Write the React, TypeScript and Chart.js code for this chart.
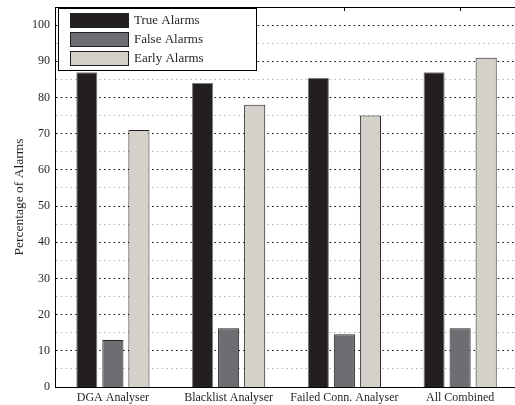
import React, { useEffect, useRef } from "react";
import { Chart, registerables } from "chart.js";

Chart.register(...registerables);

const categories = ["DGA Analyser", "Blacklist Analyser", "Failed Conn. Analyser", "All Combined"];
const seriesNames = ["True Alarms", "False Alarms", "Early Alarms"];
const trueAlarms = [87, 84, 85.4, 87];
const falseAlarms = [13, 16.2, 14.6, 16.2];
const earlyAlarms = [71, 78, 75, 91];
const yTickLabels = [0, 10, 20, 30, 40, 50, 60, 70, 80, 90, 100];

const fills = ["#231f20", "#6d6e71", "#d4d0ca"];
const borders = ["#7a7a7a", "#231f20", "#231f20"];
const SERIF = "'Liberation Serif', 'DejaVu Serif', serif";

const framePlugin = {
  id: "frame",
  afterDatasetsDraw(chart: any) {
    const { ctx, chartArea } = chart;
    const xs = chart.scales.x;
    ctx.save();
    ctx.strokeStyle = "#000";
    ctx.lineWidth = 1;
    ctx.beginPath();
    ctx.moveTo(chartArea.left, Math.round(chartArea.top) + 0.5);
    ctx.lineTo(chartArea.right, Math.round(chartArea.top) + 0.5);
    for (let i = 0; i < categories.length; i++) {
      const x = Math.round(xs.getPixelForValue(i)) + 0.5;
      ctx.moveTo(x, chartArea.top);
      ctx.lineTo(x, chartArea.top + 4);
    }
    ctx.stroke();

    // legend box
    const lx = 58, ly = 8, lw = 198, lh = 62;
    ctx.fillStyle = "#fff";
    ctx.fillRect(lx, ly, lw, lh);
    ctx.strokeStyle = "#000";
    ctx.strokeRect(lx + 0.5, ly + 0.5, lw, lh);
    ctx.font = "13px " + SERIF;
    ctx.textBaseline = "middle";
    chart.data.datasets.forEach((ds: any, i: number) => {
      const y = 13 + i * 19;
      ctx.fillStyle = ds.backgroundColor;
      ctx.fillRect(70, y, 58, 14);
      ctx.strokeStyle = "#231f20";
      ctx.strokeRect(70.5, y + 0.5, 58, 14);
      ctx.fillStyle = "#231f20";
      ctx.fillText(ds.label, 134, y + 7.5);
    });
    ctx.restore();
  },
};

export default function App() {
  const ref = useRef<HTMLCanvasElement>(null);
  useEffect(() => {
    const chart = new Chart(ref.current!, {
      type: "bar",
      data: {
        labels: categories,
        datasets: [trueAlarms, falseAlarms, earlyAlarms].map((d, i) => ({
          label: seriesNames[i],
          data: d,
          backgroundColor: fills[i],
          borderColor: borders[i],
          borderWidth: 1,
          categoryPercentage: 0.675,
          barPercentage: 0.81,
        })),
      },
      options: {
        responsive: false,
        animation: false,
        layout: { padding: { top: 7, right: 0, left: 0, bottom: 0 } },
        plugins: { legend: { display: false }, tooltip: { enabled: false } },
        scales: {
          x: {
            grid: { display: false, drawTicks: false },
            border: { display: true, color: "#000", width: 1 },
            ticks: { color: "#231f20", font: { family: SERIF, size: 12 }, padding: 4, maxRotation: 0, autoSkip: false },
            afterFit: (s: any) => { s.height = 18; s.paddingLeft = 0; s.paddingRight = 0; },
          },
          y: {
            min: 0,
            max: 105,
            afterBuildTicks: (s: any) => {
              const t: any[] = [];
              for (let v = 0; v <= 105; v += 5) t.push({ value: v });
              s.ticks = t;
            },
            grid: {
              drawTicks: false,
              color: (c: any) => (c.tick && c.tick.value % 10 === 0 ? "#000" : "#b0b0b0"),
              lineWidth: (c: any) => (c.tick && c.tick.value === 0 ? 0 : 1),
            },
            border: { display: true, color: "#000", width: 1, dash: [1.5, 3.3] },
            ticks: {
              color: "#231f20",
              font: { family: SERIF, size: 12 },
              padding: 5,
              callback: (v: any) => (yTickLabels.includes(Number(v)) ? String(v) : ""),
            },
            title: {
              display: true,
              text: "Percentage of Alarms",
              color: "#231f20",
              font: { family: SERIF, size: 13.5 },
              padding: { top: 11, bottom: 0 },
            },
            afterFit: (s: any) => { s.width = 55; s.paddingTop = 0; s.paddingBottom = 0; },
          },
        },
      },
      plugins: [framePlugin],
    });
    return () => chart.destroy();
  }, []);
  return (
    <div style={{ position: "fixed", left: 0, top: 0, width: 515, height: 405, overflow: "hidden", background: "#fff" }}>
      <canvas ref={ref} width={518} height={405} style={{ width: 518, height: 405 }} />
    </div>
  );
}
